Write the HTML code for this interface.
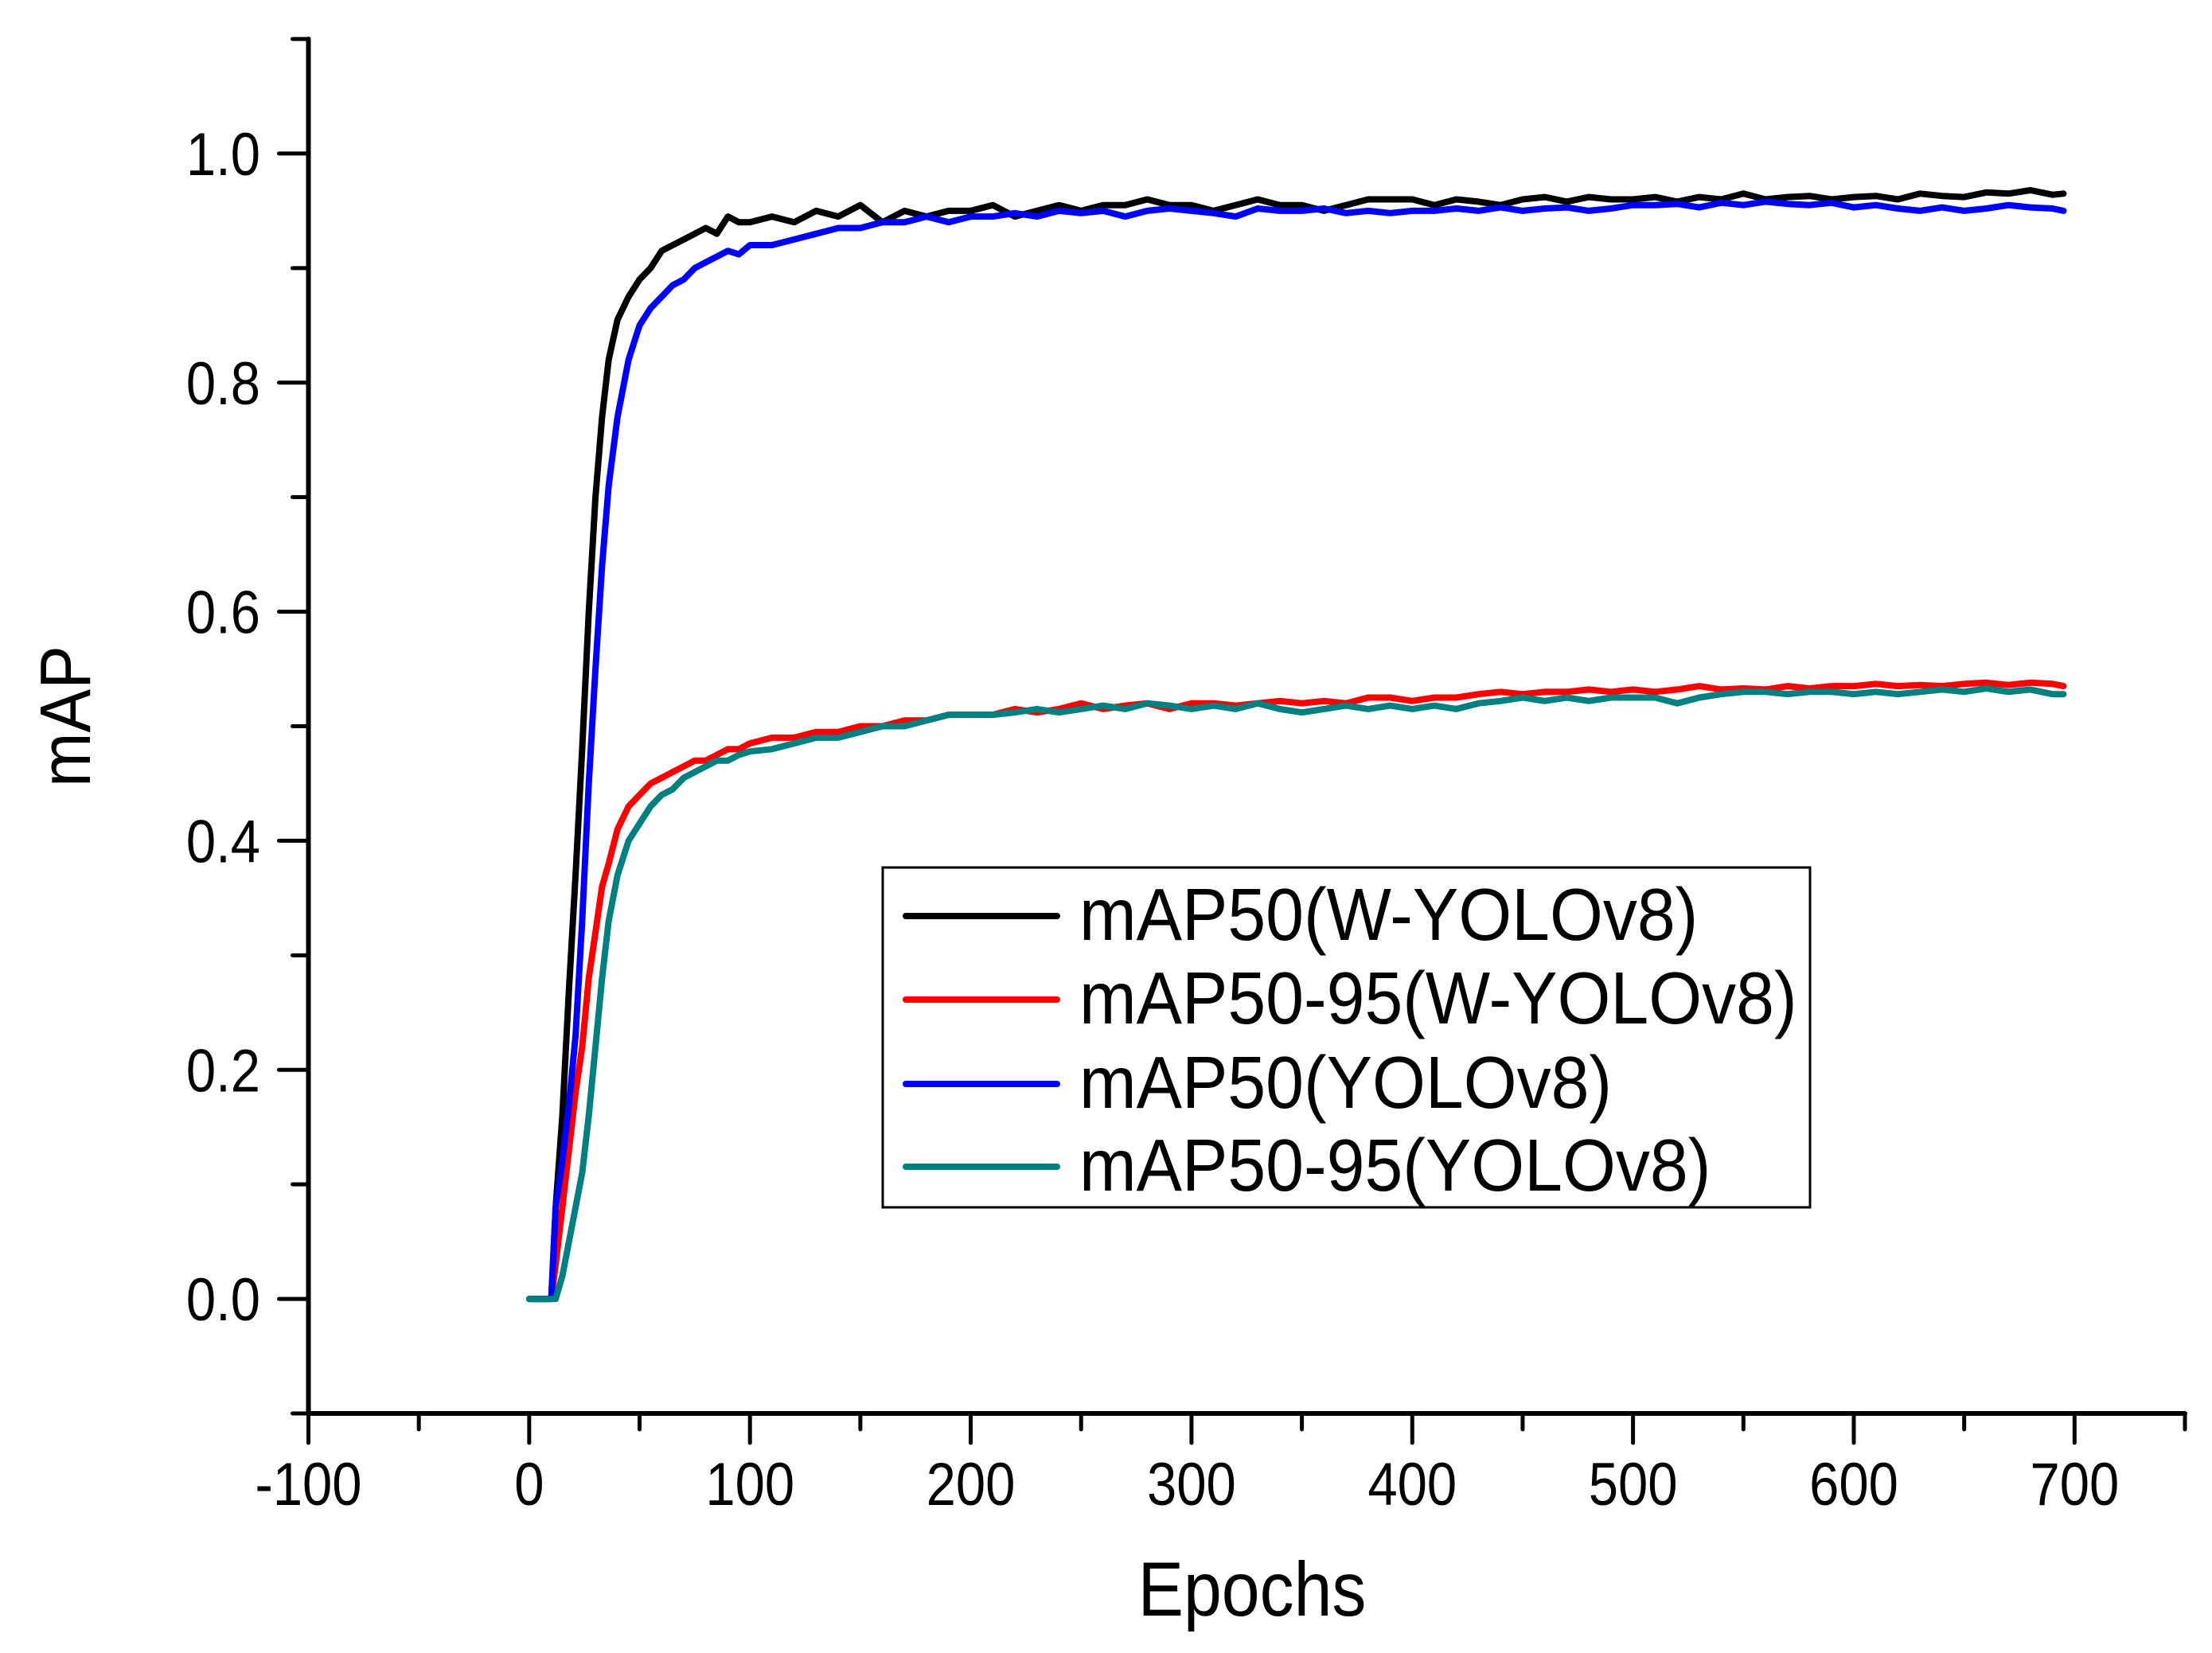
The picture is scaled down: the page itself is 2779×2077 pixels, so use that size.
<!DOCTYPE html>
<html><head><meta charset="utf-8"><style>
html,body{margin:0;padding:0;background:#fff;}
svg{display:block;font-family:"Liberation Sans",Arial,sans-serif;}
</style></head><body>
<svg id="chart" width="2779" height="2077" viewBox="0 0 2779 2077" xmlns="http://www.w3.org/2000/svg">
<rect x="0" y="0" width="2779" height="2077" fill="#fff"/>
<g id="series"></g>
<g id="axes"></g>
<text transform="translate(1573,2030) scale(1,1.12)" font-size="86" text-anchor="middle">Epochs</text>
<text transform="translate(113,900) rotate(-90) scale(1,1.1)" font-size="82" text-anchor="middle">mAP</text>
<g>
<rect x="1109" y="1090" width="1165" height="427" fill="#fff" stroke="#000" stroke-width="3"/>
<g><line x1="1138" y1="1151" x2="1328" y2="1151" stroke="#000" stroke-width="8" stroke-linecap="round"/><text transform="translate(1356,1181) scale(1,1.08)" font-size="86">mAP50(W-YOLOv8)</text></g>
<g><line x1="1138" y1="1256" x2="1328" y2="1256" stroke="#ff0000" stroke-width="8" stroke-linecap="round"/><text transform="translate(1356,1286) scale(1,1.08)" font-size="86">mAP50-95(W-YOLOv8)</text></g>
<g><line x1="1138" y1="1362" x2="1328" y2="1362" stroke="#0000ff" stroke-width="8" stroke-linecap="round"/><text transform="translate(1356,1392) scale(1,1.08)" font-size="86">mAP50(YOLOv8)</text></g>
<g><line x1="1138" y1="1466" x2="1328" y2="1466" stroke="#008080" stroke-width="8" stroke-linecap="round"/><text transform="translate(1356,1496) scale(1,1.08)" font-size="86">mAP50-95(YOLOv8)</text></g>
</g>
</svg>
<script>
const epochs=[0,5,10,12,15,18,21,24,27,30,33,36,40,45,50,55,60,65,70,75,80,85,90,95,100,
110,120,130,140,150,160,170,180,190,200,210,220,230,240,250,260,270,280,290,300,
310,320,330,340,350,360,370,380,390,400,410,420,430,440,450,460,470,480,490,500,
510,520,530,540,550,560,570,580,590,600,610,620,630,640,650,660,670,680,690,695];
const map50W=[0,0,0,0.08,0.16,0.27,0.37,0.48,0.60,0.70,0.77,0.82,0.855,0.875,0.89,0.90,0.915,0.92,0.925,0.93,0.935,0.93,0.945,0.94,0.94,
0.945,0.94,0.95,0.945,0.955,0.94,0.95,0.945,0.95,0.95,
0.955,0.945,0.95,0.955,0.95,0.955,0.955,0.96,0.955,0.955,
0.95,0.955,0.96,0.955,0.955,0.95,0.955,0.96,0.96,0.96,
0.955,0.96,0.958,0.955,0.96,0.962,0.958,0.962,0.96,0.96,
0.962,0.958,0.962,0.96,0.965,0.96,0.962,0.963,0.96,0.962,
0.963,0.96,0.965,0.963,0.962,0.966,0.965,0.968,0.964,0.965];
const map5095W=[0,0,0,0.03,0.08,0.13,0.18,0.22,0.28,0.32,0.36,0.38,0.41,0.43,0.44,0.45,0.455,0.46,0.465,0.47,0.47,0.475,0.48,0.48,0.485,
0.49,0.49,0.495,0.495,0.5,0.5,0.505,0.505,0.51,0.51,
0.51,0.515,0.512,0.515,0.52,0.515,0.518,0.52,0.515,0.52,
0.52,0.518,0.52,0.522,0.52,0.522,0.52,0.525,0.525,0.522,
0.525,0.525,0.528,0.53,0.528,0.53,0.53,0.532,0.53,0.532,
0.53,0.532,0.535,0.532,0.533,0.532,0.535,0.533,0.535,0.535,
0.537,0.535,0.536,0.535,0.537,0.538,0.536,0.538,0.537,0.535];
const map50Y=[0,0,0,0.08,0.12,0.17,0.23,0.33,0.45,0.55,0.64,0.71,0.77,0.82,0.85,0.865,0.875,0.885,0.89,0.9,0.905,0.91,0.915,0.912,0.92,
0.92,0.925,0.93,0.935,0.935,0.94,0.94,0.945,0.94,0.945,
0.945,0.948,0.945,0.95,0.948,0.95,0.945,0.95,0.952,0.95,
0.948,0.945,0.952,0.95,0.95,0.952,0.948,0.95,0.948,0.95,
0.95,0.952,0.95,0.953,0.95,0.952,0.953,0.95,0.952,0.955,
0.955,0.956,0.953,0.957,0.955,0.958,0.956,0.955,0.957,0.953,
0.955,0.952,0.95,0.953,0.95,0.952,0.955,0.953,0.952,0.95];
const map5095Y=[0,0,0,0,0.02,0.05,0.08,0.11,0.16,0.22,0.28,0.33,0.37,0.40,0.415,0.43,0.44,0.445,0.455,0.46,0.465,0.47,0.47,0.475,0.478,
0.48,0.485,0.49,0.49,0.495,0.5,0.5,0.505,0.51,0.51,
0.51,0.512,0.515,0.512,0.515,0.518,0.515,0.52,0.518,0.515,
0.518,0.515,0.52,0.515,0.512,0.515,0.518,0.515,0.518,0.515,
0.518,0.515,0.52,0.522,0.525,0.522,0.525,0.522,0.525,0.525,
0.525,0.52,0.525,0.528,0.53,0.53,0.528,0.53,0.53,0.528,
0.53,0.528,0.53,0.532,0.53,0.533,0.53,0.532,0.528,0.528];
const xTicks=[-100,0,100,200,300,400,500,600,700];
const yTicks=[0.0,0.2,0.4,0.6,0.8,1.0];
const yTickLabels=["0.0","0.2","0.4","0.6","0.8","1.0"];

const NS="http://www.w3.org/2000/svg";
const X0=387.5,X1=2745,Y0=1776,Y1=49;
function xs(v){return X0+(v+100)/850*(X1-X0);}
function ys(v){return Y0-(v+0.1)/1.2*(Y0-Y1);}
function mk(tag,attrs,parent){const e=document.createElementNS(NS,tag);for(const k in attrs)e.setAttribute(k,attrs[k]);parent.appendChild(e);return e;}

const sg=document.getElementById('series');
const series=[[map50W,'#000000','series-map50-wyolov8'],[map5095W,'#ff0000','series-map50-95-wyolov8'],[map50Y,'#0000ff','series-map50-yolov8'],[map5095Y,'#008080','series-map50-95-yolov8']];
series.forEach(s=>{
  const pts=s[0].map((v,i)=>xs(epochs[i]).toFixed(1)+','+ys(v).toFixed(1)).join(' ');
  const pl=mk('polyline',{points:pts,fill:'none',stroke:s[1],'stroke-width':8,'stroke-linejoin':'round','stroke-linecap':'round'},sg);
  
  
});

const ag=document.getElementById('axes');
const xl=mk('line',{x1:X0,y1:Y0,x2:X1,y2:Y0,stroke:'#000','stroke-width':6,'stroke-linecap':'round'},ag);


const yl=mk('line',{x1:X0,y1:Y0,x2:X0,y2:Y1,stroke:'#000','stroke-width':6,'stroke-linecap':'round'},ag);


for(let v=-100;v<=750;v+=50){
  const major=(v%100===0);
  const t=mk('line',{x1:xs(v),y1:Y0,x2:xs(v),y2:Y0+(major?37:20),stroke:'#000','stroke-width':5,'stroke-linecap':'round'},ag);
  
  
}
xTicks.forEach(v=>{
  const t=mk('text',{transform:'translate('+xs(v)+',1891) scale(1,1.14)','font-size':67,'text-anchor':'middle'},ag);
  t.textContent=String(v);
  
  
});
for(let k=-1;k<=11;k++){
  const v=k/10;const major=(k%2===0);
  const t=mk('line',{x1:X0,y1:ys(v),x2:X0-(major?37:20),y2:ys(v),stroke:'#000','stroke-width':5,'stroke-linecap':'round'},ag);
  
  
}
yTicks.forEach((v,i)=>{
  const t=mk('text',{transform:'translate(327,'+(ys(v)+27)+') scale(1,1.14)','font-size':67,'text-anchor':'end'},ag);
  t.textContent=yTickLabels[i];
  
  
});
</script>
</body></html>
